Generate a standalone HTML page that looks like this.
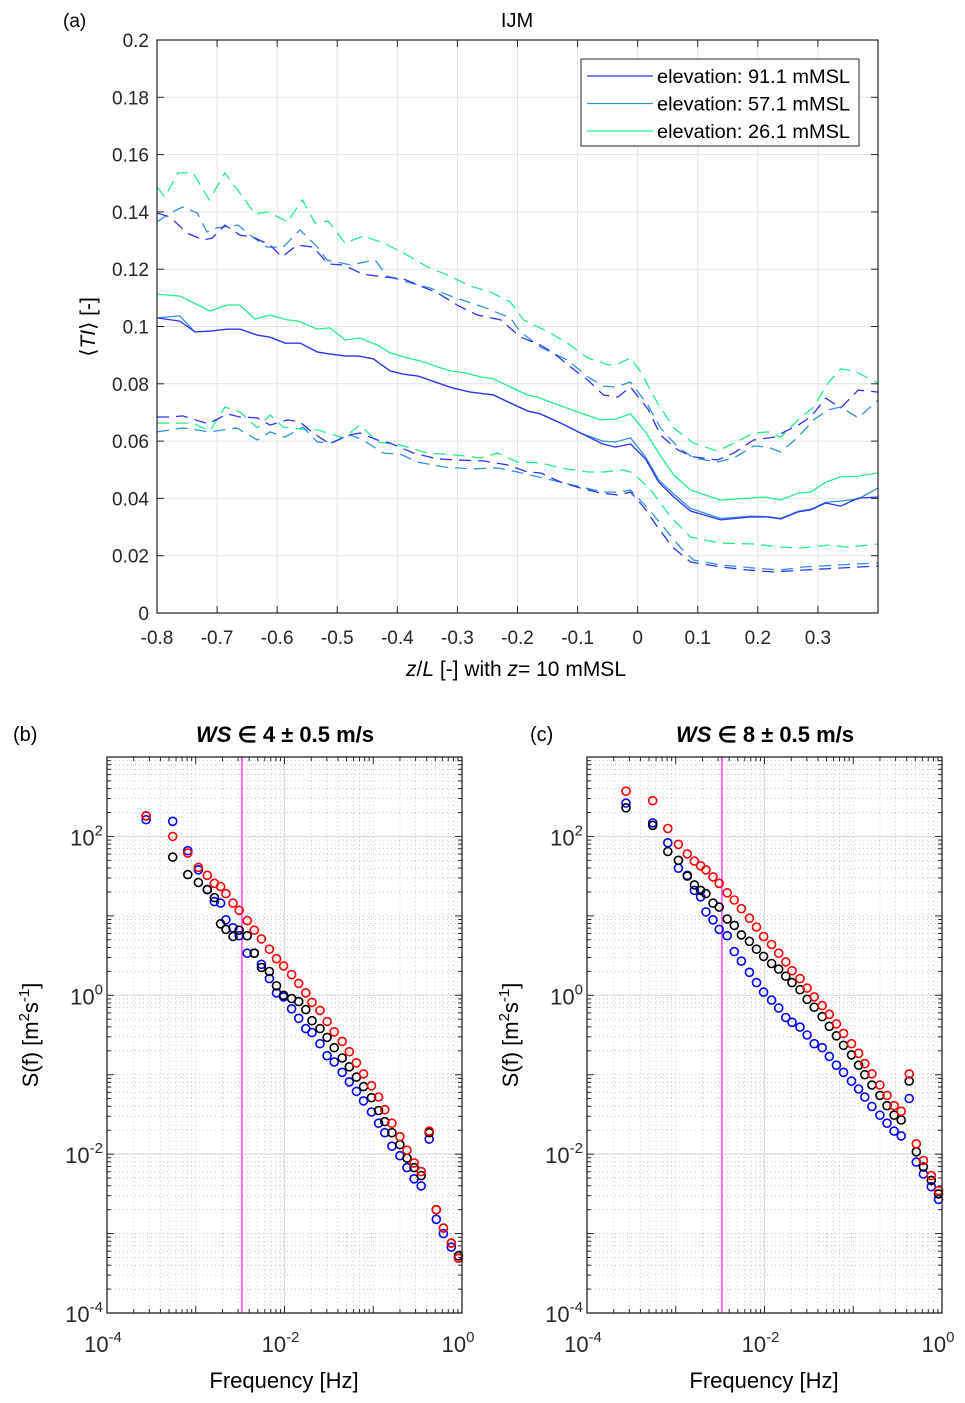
<!DOCTYPE html>
<html><head><meta charset="utf-8"><style>
html,body{margin:0;padding:0;background:#fff;}
svg{display:block;font-family:"Liberation Sans",Arial,sans-serif;}
</style></head><body>
<svg id="fig" width="965" height="1403" viewBox="0 0 965 1403" xmlns="http://www.w3.org/2000/svg">
<rect width="965" height="1403" fill="#fff"/>
<g id="top"></g>
<g id="pb"></g>
<g id="pc"></g>
<text x="63" y="27" font-size="19">(a)</text>
<text x="517" y="27" font-size="20" text-anchor="middle">IJM</text>
<text x="516" y="676" font-size="21" text-anchor="middle"><tspan font-style="italic">z</tspan>/<tspan font-style="italic">L</tspan> [-] with <tspan font-style="italic">z</tspan>= 10 mMSL</text>
<text transform="translate(95,327) rotate(-90)" font-size="21" text-anchor="middle">⟨<tspan font-style="italic">TI</tspan>⟩ [-]</text>
<text x="13" y="741" font-size="20">(b)</text>
<text x="530" y="741" font-size="20">(c)</text>
<text x="285" y="742" font-size="22" font-weight="bold" text-anchor="middle"><tspan font-style="italic">WS</tspan> ∈ 4 ± 0.5 m/s</text>
<text x="765" y="742" font-size="22" font-weight="bold" text-anchor="middle"><tspan font-style="italic">WS</tspan> ∈ 8 ± 0.5 m/s</text>
<text x="284" y="1388" font-size="22" text-anchor="middle">Frequency [Hz]</text>
<text x="764" y="1388" font-size="22" text-anchor="middle">Frequency [Hz]</text>
<text transform="translate(38,1035) rotate(-90)" font-size="22" text-anchor="middle">S(f) [m<tspan font-size="15" dy="-9">2</tspan><tspan dy="9">s</tspan><tspan font-size="15" dy="-9">-1</tspan><tspan dy="9">]</tspan></text>
<text transform="translate(518,1035) rotate(-90)" font-size="22" text-anchor="middle">S(f) [m<tspan font-size="15" dy="-9">2</tspan><tspan dy="9">s</tspan><tspan font-size="15" dy="-9">-1</tspan><tspan dy="9">]</tspan></text>
</svg>
<script>
// ---------- Top chart data ----------
const gMeanX=[-0.8,-0.762,-0.712,-0.683,-0.662,-0.637,-0.612,-0.583,-0.565,-0.533,-0.512,-0.487,-0.462,-0.433,-0.412,-0.383,-0.362,-0.333,-0.312,-0.287,-0.262,-0.24,-0.212,-0.183,-0.167,-0.145,-0.1,-0.062,-0.037,-0.012,0.013,0.035,0.06,0.088,0.138,0.183,0.213,0.238,0.267,0.288,0.313,0.338,0.367,0.4];
const gMeanY=[.1113,.1106,.1054,.1075,.1075,.1026,.104,.1023,.1019,.0991,.0995,.0953,.096,.0935,.0908,.089,.088,.0859,.0845,.0838,.0824,.0817,.0789,.0761,.0754,.0736,.0702,.0674,.0677,.0695,.0632,.0558,.0482,.0429,.0394,.0401,.0405,.0394,.0419,.0422,.0457,.0475,.0478,.0489];
const bMeanX=[-0.8,-0.762,-0.737,-0.712,-0.683,-0.662,-0.633,-0.612,-0.587,-0.562,-0.533,-0.512,-0.487,-0.465,-0.44,-0.412,-0.39,-0.365,-0.333,-0.307,-0.278,-0.24,-0.212,-0.183,-0.162,-0.128,-0.095,-0.058,-0.037,-0.012,0.013,0.035,0.06,0.088,0.138,0.188,0.217,0.238,0.267,0.288,0.313,0.338,0.367,0.4];
const dMeanY=[.103,.1019,.0981,.0984,.0991,.0991,.097,.0963,.0942,.0942,.0911,.0904,.0897,.0897,.0887,.0845,.0834,.0827,.0803,.0785,.0771,.0761,.0733,.0705,.0695,.0663,.0628,.059,.0579,.059,.0538,.0457,.0405,.0356,.0325,.0335,.0335,.0328,.0353,.036,.0384,.0373,.0401,.0405];
const lMeanY=[.103,.1037,.0981,.0984,.0991,.0991,.097,.0963,.0942,.0942,.0911,.0904,.0897,.0897,.0887,.0845,.0834,.0827,.0803,.0785,.0771,.0761,.0733,.0705,.0695,.0663,.0628,.06,.0597,.0611,.0545,.0465,.0415,.0365,.033,.0338,.0336,.033,.0355,.0362,.0386,.0391,.0398,.0436];
const gUpX=[-0.8,-0.787,-0.765,-0.74,-0.713,-0.687,-0.662,-0.637,-0.615,-0.583,-0.558,-0.537,-0.515,-0.487,-0.457,-0.423,-0.39,-0.35,-0.317,-0.278,-0.245,-0.212,-0.19,-0.162,-0.145,-0.117,-0.083,-0.05,-0.033,-0.012,0.005,0.033,0.06,0.093,0.133,0.16,0.193,0.217,0.238,0.267,0.293,0.317,0.338,0.36,0.377,0.4];
const gUpY=[.1487,.1452,.1536,.1536,.1442,.1536,.1466,.1393,.14,.1365,.1442,.1361,.1368,.1291,.1316,.1291,.1257,.1208,.118,.1141,.112,.1086,.1023,.0995,.0977,.0942,.089,.0866,.0869,.089,.0841,.0733,.0646,.0593,.0565,.0593,.0628,.0632,.0614,.0674,.0719,.0803,.0852,.0845,.0827,.0803];
const dUpX=[-0.8,-0.778,-0.75,-0.723,-0.708,-0.687,-0.662,-0.64,-0.612,-0.592,-0.567,-0.54,-0.515,-0.49,-0.458,-0.423,-0.39,-0.333,-0.298,-0.267,-0.228,-0.195,-0.162,-0.14,-0.112,-0.083,-0.057,-0.033,-0.012,0.018,0.038,0.067,0.093,0.133,0.16,0.193,0.227,0.267,0.288,0.313,0.338,0.367,0.4];
const dUpY=[.1396,.1382,.1326,.1302,.1309,.1354,.1319,.1312,.1284,.1243,.1284,.1277,.1218,.1215,.1183,.1173,.1166,.1117,.1072,.104,.1023,.0963,.0935,.0908,.0859,.0813,.0761,.0754,.0789,.0709,.0621,.0569,.0545,.0534,.0558,.0604,.0614,.0656,.0684,.075,.0716,.0778,.0771];
const lUpX=[-0.8,-0.778,-0.757,-0.733,-0.717,-0.7,-0.665,-0.645,-0.617,-0.59,-0.562,-0.533,-0.517,-0.478,-0.437,-0.417,-0.383,-0.345,-0.307,-0.257,-0.212,-0.195,-0.162,-0.117,-0.083,-0.057,-0.037,-0.012,0.017,0.038,0.067,0.093,0.133,0.16,0.193,0.217,0.238,0.267,0.293,0.317,0.338,0.367,0.4];
const lUpY=[.1365,.1396,.1417,.1396,.133,.1344,.1354,.1319,.1277,.1277,.1337,.1277,.1232,.1215,.1232,.1176,.1155,.1134,.1103,.1068,.103,.0981,.0928,.0883,.0824,.0792,.0789,.0806,.0726,.0646,.0579,.0541,.0527,.0541,.0583,.0579,.0562,.0614,.0674,.0709,.0719,.0681,.0743];
const gLoX=[-0.8,-0.74,-0.712,-0.687,-0.662,-0.633,-0.612,-0.59,-0.562,-0.533,-0.49,-0.462,-0.433,-0.395,-0.35,-0.3,-0.262,-0.233,-0.2,-0.162,-0.128,-0.083,-0.057,-0.023,-0.008,0.022,0.055,0.088,0.138,0.193,0.238,0.272,0.317,0.35,0.4];
const gLoY=[.0663,.0663,.0635,.0719,.0702,.0646,.0691,.0649,.0642,.0639,.0611,.0656,.0597,.0586,.0558,.0551,.0541,.0558,.0527,.0524,.0506,.0492,.0492,.0499,.0489,.0429,.0335,.0265,.0244,.0241,.023,.0227,.0237,.023,.0241];
const dLoX=[-0.8,-0.778,-0.757,-0.715,-0.683,-0.662,-0.633,-0.612,-0.583,-0.562,-0.54,-0.512,-0.483,-0.462,-0.433,-0.412,-0.373,-0.333,-0.3,-0.257,-0.217,-0.183,-0.162,-0.128,-0.095,-0.062,-0.033,-0.012,0.01,0.033,0.058,0.088,0.138,0.183,0.227,0.277,0.338,0.4];
const dLoY=[.0684,.0684,.0688,.066,.0695,.0684,.0681,.0656,.0674,.0667,.0628,.059,.0621,.0628,.0604,.0593,.0558,.0538,.0534,.0531,.0517,.0492,.0489,.0457,.0436,.0419,.0412,.0422,.037,.03,.023,.0178,.0161,.015,.0143,.015,.0157,.0164];
const lLoX=[-0.8,-0.757,-0.712,-0.667,-0.633,-0.612,-0.587,-0.557,-0.533,-0.512,-0.478,-0.457,-0.423,-0.395,-0.367,-0.323,-0.278,-0.233,-0.2,-0.145,-0.095,-0.057,-0.033,-0.012,0.017,0.043,0.072,0.093,0.138,0.193,0.238,0.277,0.338,0.4];
const lLoY=[.0632,.0646,.0632,.0646,.0604,.0632,.0614,.0649,.0597,.0593,.0621,.0604,.0558,.0555,.0527,.051,.0503,.0506,.0492,.0465,.044,.0422,.0422,.0429,.0366,.03,.0227,.0185,.0168,.0157,.015,.0161,.0168,.0175];
const topXTicks=[-0.8,-0.7,-0.6,-0.5,-0.4,-0.3,-0.2,-0.1,0,0.1,0.2,0.3];
const topXTickLabels=["-0.8","-0.7","-0.6","-0.5","-0.4","-0.3","-0.2","-0.1","0","0.1","0.2","0.3"];
const topYTicks=[0,0.02,0.04,0.06,0.08,0.1,0.12,0.14,0.16,0.18,0.2];
const topYTickLabels=["0","0.02","0.04","0.06","0.08","0.1","0.12","0.14","0.16","0.18","0.2"];
const legendLabels=["elevation: 91.1 mMSL","elevation: 57.1 mMSL","elevation: 26.1 mMSL"];

// ---------- Spectra data (log10 values) ----------
const freqExp=[-3.56,-3.26,-3.09,-2.97,-2.87,-2.79,-2.72,-2.66,-2.58,-2.51,-2.42,-2.34,-2.26,-2.17,-2.09,-2.01,-1.92,-1.84,-1.76,-1.69,-1.60,-1.52,-1.44,-1.35,-1.27,-1.19,-1.11,-1.02,-0.94,-0.87,-0.79,-0.70,-0.62,-0.54,-0.46,-0.37,-0.29,-0.21,-0.12,-0.04];
const bRed=[2.26,2.00,1.79,1.61,1.51,1.41,1.37,1.28,1.16,1.07,0.94,0.82,0.71,0.58,0.46,0.37,0.26,0.15,0.03,-0.09,-0.19,-0.33,-0.46,-0.58,-0.71,-0.85,-0.99,-1.14,-1.28,-1.44,-1.61,-1.78,-1.95,-2.11,-2.22,-1.71,-2.70,-2.93,-3.12,-3.31];
const bBlack=[2.26,1.74,1.52,1.42,1.33,1.23,0.90,0.83,0.74,0.82,0.75,0.53,0.35,0.30,0.12,0.00,-0.04,-0.08,-0.18,-0.32,-0.42,-0.53,-0.66,-0.79,-0.90,-1.03,-1.15,-1.29,-1.45,-1.59,-1.73,-1.88,-2.05,-2.17,-2.27,-1.73,-2.70,-2.93,-3.12,-3.28];
const bBlue=[2.21,2.19,1.82,1.58,1.33,1.18,1.16,0.95,0.85,0.75,0.53,0.53,0.39,0.21,0.03,-0.02,-0.17,-0.29,-0.42,-0.47,-0.61,-0.76,-0.84,-0.97,-1.09,-1.21,-1.33,-1.47,-1.61,-1.73,-1.90,-2.02,-2.17,-2.31,-2.40,-1.81,-2.82,-3.00,-3.17,-3.31];
const cRed=[2.57,2.45,2.10,1.90,1.78,1.69,1.63,1.58,1.49,1.41,1.29,1.20,1.09,0.97,0.86,0.74,0.64,0.53,0.42,0.31,0.21,0.09,-0.02,-0.13,-0.24,-0.36,-0.48,-0.61,-0.73,-0.86,-0.99,-1.13,-1.26,-1.39,-1.46,-0.99,-1.87,-2.08,-2.27,-2.46];
const cBlack=[2.36,2.14,1.81,1.70,1.50,1.39,1.32,1.28,1.16,1.11,0.96,0.88,0.76,0.68,0.58,0.49,0.40,0.33,0.24,0.16,0.07,-0.05,-0.15,-0.27,-0.39,-0.51,-0.63,-0.75,-0.88,-1.00,-1.13,-1.26,-1.39,-1.51,-1.57,-1.08,-1.97,-2.16,-2.33,-2.50];
const cBlue=[2.42,2.17,1.92,1.60,1.51,1.32,1.24,1.05,0.95,0.83,0.75,0.55,0.43,0.29,0.16,0.04,-0.06,-0.16,-0.28,-0.34,-0.40,-0.50,-0.61,-0.66,-0.77,-0.88,-0.97,-1.08,-1.18,-1.28,-1.40,-1.51,-1.61,-1.71,-1.77,-1.30,-2.10,-2.25,-2.41,-2.57];
const cutoffFreqExp=[-2.48];
const logXTicks=[-4,-2,0];
const logYTicks=[-4,-2,0,2];

const NS="http://www.w3.org/2000/svg";
function mk(parent,tag,attrs){const e=document.createElementNS(NS,tag);for(const k in attrs)e.setAttribute(k,attrs[k]);parent.appendChild(e);return e;}

// ---------- Top chart ----------
(function(){
const g=document.getElementById('top');
const L=157,R=878,T=40,B=613;
const xS=x=>L+(x+0.8)*(R-L)/1.2;
const yS=v=>B-v*(B-T)/0.2;
topXTicks.forEach((t,i)=>{
  const gl=mk(g,'line',{x1:xS(t),x2:xS(t),y1:T,y2:B,stroke:'#e3e3e3','stroke-width':1});
  
  
});
topYTicks.forEach((t,i)=>{
  const gl=mk(g,'line',{x1:L,x2:R,y1:yS(t),y2:yS(t),stroke:'#e3e3e3','stroke-width':1});
  
  
});
const series=[
 [gLoX,gLoY,'#20ee8a',true,'green-lower'],[lLoX,lLoY,'#2a96d4',true,'lightblue-lower'],[dLoX,dLoY,'#3030f5',true,'blue-lower'],
 [gUpX,gUpY,'#20ee8a',true,'green-upper'],[lUpX,lUpY,'#2a96d4',true,'lightblue-upper'],[dUpX,dUpY,'#3030f5',true,'blue-upper'],
 [gMeanX,gMeanY,'#20ee8a',false,'green-mean'],[bMeanX,lMeanY,'#2a96d4',false,'lightblue-mean'],[bMeanX,dMeanY,'#3030f5',false,'blue-mean']];
series.forEach(s=>{
  const d=s[0].map((x,i)=>(i?'L':'M')+xS(x).toFixed(1)+' '+yS(s[1][i]).toFixed(1)).join(' ');
  const p=mk(g,'path',{d:d,fill:'none',stroke:s[2],'stroke-width':1.3});
  if(s[3])p.setAttribute('stroke-dasharray','12 7');
  
  
});
const frame=mk(g,'rect',{x:L,y:T,width:R-L,height:B-T,fill:'none',stroke:'#262626','stroke-width':1.2});


topXTicks.forEach((t,i)=>{
  mk(g,'line',{x1:xS(t),x2:xS(t),y1:B,y2:B-7,stroke:'#262626'});
  mk(g,'line',{x1:xS(t),x2:xS(t),y1:T,y2:T+7,stroke:'#262626'});
  const tx=mk(g,'text',{x:xS(t),y:644,'font-size':19,'text-anchor':'middle',fill:'#262626'});
  tx.textContent=topXTickLabels[i];
  
  
});
topYTicks.forEach((t,i)=>{
  mk(g,'line',{x1:L,x2:L+7,y1:yS(t),y2:yS(t),stroke:'#262626'});
  mk(g,'line',{x1:R,x2:R-7,y1:yS(t),y2:yS(t),stroke:'#262626'});
  const tx=mk(g,'text',{x:149,y:yS(t)+7,'font-size':19,'text-anchor':'end',fill:'#262626'});
  tx.textContent=topYTickLabels[i];
  
  
});
const lg=mk(g,'g',{});


mk(lg,'rect',{x:581,y:59,width:278,height:87,fill:'#fff',stroke:'#262626','stroke-width':1});
const lc=['#3030f5','#2a96d4','#20ee8a'];
legendLabels.forEach((lab,i)=>{
  const y=76+i*27.5;
  const e=mk(lg,'g',{});
  
  
  mk(e,'line',{x1:587,x2:653,y1:y,y2:y,stroke:lc[i],'stroke-width':1.3});
  const tx=mk(e,'text',{x:657,y:y+7,'font-size':19,fill:'#000',textLength:193,lengthAdjust:'spacingAndGlyphs'});
  tx.textContent=lab;
})
})();

// ---------- Spectra ----------
function spectrum(id,L,redA,blackA,blueA){
const g=document.getElementById(id);
const R=L+355,T=757,B=1313;
const xS=e=>L+(e+4)*(R-L)/4;
const yS=e=>B-(e+4)*(B-T)/7;
for(let d=-4;d<0;d++)for(let m=2;m<=9;m++){const x=xS(d+Math.log10(m));mk(g,'line',{x1:x,x2:x,y1:T,y2:B,stroke:'#bbb','stroke-width':0.8,'stroke-dasharray':'1 3'});}
for(let d=-4;d<3;d++)for(let m=2;m<=9;m++){const y=yS(d+Math.log10(m));mk(g,'line',{x1:L,x2:R,y1:y,y2:y,stroke:'#bbb','stroke-width':0.8,'stroke-dasharray':'1 3'});}
[-3,-1].forEach(e=>mk(g,'line',{x1:xS(e),x2:xS(e),y1:T,y2:B,stroke:'#bbb','stroke-width':0.8,'stroke-dasharray':'1 3'}));
[-3,-1,1].forEach(e=>mk(g,'line',{x1:L,x2:R,y1:yS(e),y2:yS(e),stroke:'#bbb','stroke-width':0.8,'stroke-dasharray':'1 3'}));
logXTicks.forEach(e=>{const gl=mk(g,'line',{x1:xS(e),x2:xS(e),y1:T,y2:B,stroke:'#dcdcdc','stroke-width':1.2});
  
  });
logYTicks.forEach(e=>{const gl=mk(g,'line',{x1:L,x2:R,y1:yS(e),y2:yS(e),stroke:'#dcdcdc','stroke-width':1.2});
  
  });
cutoffFreqExp.forEach(e=>{const c=mk(g,'line',{x1:xS(e),x2:xS(e),y1:T,y2:B,stroke:'#ff44ff','stroke-width':1.5});
  
  });
[[blueA,'#0000ff','blue'],[blackA,'#000000','black'],[redA,'#ff0000','red']].forEach(s=>{
  s[0].forEach((v,i)=>{
    const c=mk(g,'circle',{cx:xS(freqExp[i]).toFixed(1),cy:yS(v).toFixed(1),r:4,fill:'none',stroke:s[1],'stroke-width':1.6});
    
    
  });
});
const fr=mk(g,'rect',{x:L,y:T,width:R-L,height:B-T,fill:'none',stroke:'#262626','stroke-width':1.3});


for(let d=-4;d<3;d++)for(let m=1;m<=9;m++){const y=yS(d+Math.log10(m));const len=m==1?7:4;
  mk(g,'line',{x1:L,x2:L+len,y1:y,y2:y,stroke:'#262626'});mk(g,'line',{x1:R,x2:R-len,y1:y,y2:y,stroke:'#262626'});}
for(let d=-4;d<0;d++)for(let m=1;m<=9;m++){const x=xS(d+Math.log10(m));const len=m==1?7:4;
  mk(g,'line',{x1:x,x2:x,y1:B,y2:B-len,stroke:'#262626'});mk(g,'line',{x1:x,x2:x,y1:T,y2:T+len,stroke:'#262626'});}
logXTicks.forEach(e=>{
  const t=mk(g,'text',{x:xS(e)-4,y:1352,'font-size':22,'text-anchor':'middle',fill:'#262626'});
  
  
  t.innerHTML='10<tspan font-size="15" dy="-10">'+e+'</tspan>';
});
logYTicks.forEach(e=>{
  const t=mk(g,'text',{x:L-4,y:yS(e)+9,'font-size':22,'text-anchor':'end',fill:'#262626'});
  
  
  t.innerHTML='10<tspan font-size="15" dy="-10">'+e+'</tspan>';
});
}
spectrum('pb',107,bRed,bBlack,bBlue);
spectrum('pc',587,cRed,cBlack,cBlue);
</script>
</body></html>
